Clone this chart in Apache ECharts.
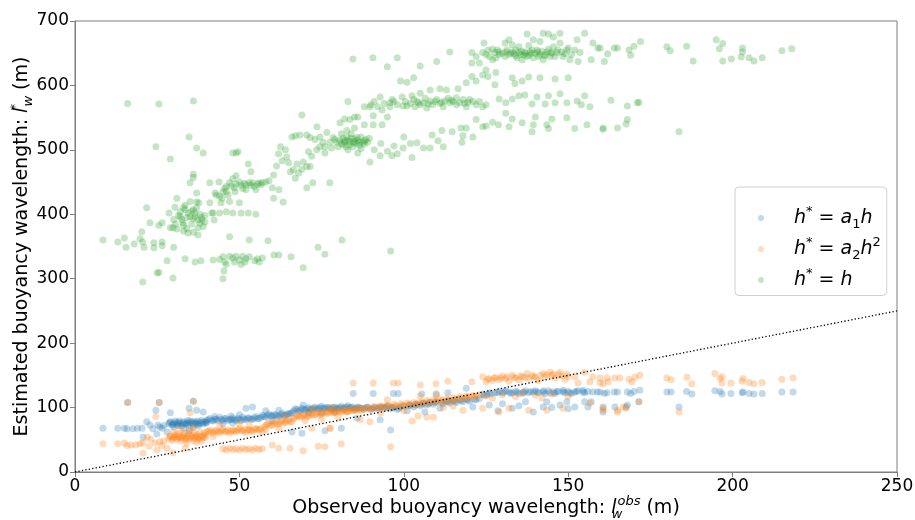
<!DOCTYPE html>
<html>
<head>
<meta charset="utf-8">
<script src="https://cdn.jsdelivr.net/npm/echarts@6/dist/echarts.min.js"></script>
<style>
  html, body { margin: 0; padding: 0; background: #fff; }
  #container { width: 915px; height: 520px; }
</style>
</head>
<body>
<div id="container"></div>
<script>
// observed wavelength (x) vs estimated wavelength (y)
var bluePts = [
  [8.5,68],[13,68],[15,68],[15.8,67],[17.6,67],[19,68],[20.4,68],[20.7,54],[21.8,78],[22.8,73],[23.7,67],[24.9,59],[25.2,73],[25.8,70],
  [24.6,96],[16,108],[25.6,108],[29,92],[28,62],[36,110],[34.7,99],[37,96],[39,93],[34.7,64],[26.5,68],[27,72],
  [28.5,75],[29,78],[29.5,73],[30,76],[30.5,79],[31,74],[31.5,77],[32,75],[32.5,72],[33,78],[33.5,75],[34,77],[34.5,73],[35,79],
  [35.5,76],[36,74],[36.5,78],[37,75],[37.5,72],[38,77],[38.5,80],[39,75],[39.5,78],[30,70],[33,68],[36,70],
  [28.8,77],[29.8,74],[30.8,76],[31.8,79],[32.8,76],[33.8,74],[34.8,76],[35.8,78],[36.8,76],[37.8,74],[38.8,77],[39.8,76],
  [31.3,72],[34.3,80],[37.3,79],[40,77],
  [40,80],[41,83],[42,79],[43,82],[44,85],[45,80],[46,83],[47,81],[48,84],[49,80],[50,82],[51,85],[52,81],[53,84],[54,82],[55,86],
  [56,83],[42.5,86],[47.5,87],[52,99],[54,101],[50,89],[45,75],[48,76],
  [40.5,81],[41.5,80],[42.5,82],[43.5,80],[44.5,82],[45.5,83],[46.5,80],[47.5,82],[48.5,81],[49.5,83],[50.5,80],[51.5,82],
  [52.5,84],[53.5,82],[54.5,84],[55.5,83],[56.5,85],
  [57,88],[58,85],[59,90],[60,87],[61,89],[62,86],[63,91],[64,88],[65,90],[66,92],[58,95],[62,96],[60,80],
  [57.5,86],[58.5,88],[59.5,87],[60.5,89],[61.5,87],[62.5,89],[63.5,88],[64.5,90],[65.5,91],
  [66,62],[69,60],[76,64],[81,68],[84.6,122],[69.4,104],[66.5,95],[67,98],[68,94],[69,99],[70,96],[71,100],[72,97],[73,101],[74,98],
  [75,102],[76,99],[77,100],[78,97],[79,101],[80,98],[81,102],[82,99],[83,103],[84,100],[85,97],[86,101],[87,99],[71,92],[75,92],[79,93],
  [67.5,97],[68.5,96],[69.5,97],[70.5,98],[71.5,97],[72.5,99],[73.5,98],[74.5,100],[75.5,99],[76.5,100],[77.5,99],[78.5,100],
  [79.5,99],[80.5,100],[81.5,99],[82.5,101],[83.5,100],[84.5,101],[85.5,99],[86.5,100],
  [88,98],[89,101],[90,97],[91,100],[92,98],[93,101],[94,99],[95,102],[96,98],[97,100],[98,97],[99,101],[85.8,84],[92.8,81],[96,65],
  [90.7,122],[96.8,122],[98.3,122],[88.5,100],[90.5,99],[92.5,100],[94.5,101],[96.5,100],[98.5,99],
  [100,102],[101,95],[102,104],[103,101],[104,105],[105,103],[106,107],[106.4,93],[107,104],[108,108],[109,105],[110,109],[111,99],
  [112,106],[113,110],[114,107],[115,111],[116,108],[117,112],[118,109],[119,113],[120,110],[121,101],[122,112],[123,114],
  [105.5,121],[109.8,121],[113.4,123],[119,130],[101.5,103],[103.5,104],[105.5,105],[107.5,106],[109.5,108],[111.5,108],[113.5,109],
  [115.5,110],[117.5,111],[119.5,112],[121.5,113],
  [124,121],[125.3,120],[126,123],[127.7,123],[129,125],[130,123],[131,126],[132,124],[133,123],[134,125],[135,122],[136.3,124],
  [137,126],[138,123],[139.4,124],[140,126],[141,123],[142.4,124],[143,122],[144,126],[145.5,124],[146,122],[147,125],[148.5,127],
  [149,123],[150,125],[151,122],[152,124],[153,126],[154.5,127],[155,123],[156,125],
  [124.5,119],[126.5,121],[128.5,123],[130.5,124],[132.5,122],[134.5,124],[136.5,123],[138.5,125],[140.5,124],[142.5,126],
  [144.5,123],[146.5,125],[148.5,124],[150.5,123],[152.5,125],[154.5,124],
  [128.6,95],[133,99],[139.4,93],[142.4,101],[147.5,104],[152,101],[156,101],[160.6,93],[155,109],[157,109],[149.6,109],[143.5,109],
  [137,109],[126,104],[130,106],[135,103],[145,100],[150,98],
  [157.5,124],[158.9,124],[159.7,124],[161,122],[161.8,123],[164,124],[165,124],[168,124],[169,122],[170,125],[171.8,127],
  [180,124],[181.3,124],[186,125],[187.6,121],[194.6,126],[196.2,125],[196.8,121],[199.5,122],[202.9,123],[203.2,124],[205,122],
  [206.5,121],[209,122],[215,124],[218.4,124],
  [160.6,101],[164.2,101],[167.6,101],[168,104],[171.5,109],[183.7,101]
];

var orangePts = [
  [8.5,44],[13,44],[15,45],[15.8,41],[17,42],[18.5,42],[19.8,44],[20.7,45],[20.7,29],[22,54],[23,51],[24.3,45],[24.9,34],[25.8,47],
  [26.4,41],[24.6,86],[16,108],[25.6,108],[28,37],[29.8,30],[33.5,37],[36,110],[35,92],[36,70],[22.5,40],[27,48],
  [28.5,52],[29,56],[29.5,49],[30,54],[30.5,58],[31,51],[31.5,55],[32,48],[32.5,53],[33,57],[33.5,50],[34,54],[34.5,60],[35,52],
  [35.5,56],[36,49],[36.5,54],[37,58],[37.5,51],[38,55],[38.5,48],[39,53],[39.5,57],[30,62],[34,45],[37,46],[35,64],[38,62],[32,66],
  [28.8,55],[29.8,52],[30.8,55],[31.8,53],[32.8,56],[33.8,52],[34.8,55],[35.8,53],[36.8,56],[37.8,53],[38.8,56],[39.8,54],
  [31.3,59],[33.3,60],[36.3,60],[39.3,60],
  [40,62],[41,65],[42,60],[43,64],[44,61],[45,66],[46,63],[47,60],[48,65],[49,62],[50,67],[51,64],[52,61],[53,66],[54,63],[55,68],
  [56,65],[57,62],[45,36],[46,34],[47,37],[48,35],[49,36],[50,34],[51,37],[52,35],[53,36],[54,34],[55,37],[56,35],[57,36],
  [42,55],[44,72],[50,75],[53,72],
  [40.5,63],[41.5,62],[42.5,64],[43.5,62],[44.5,64],[45.5,63],[46.5,65],[47.5,63],[48.5,64],[49.5,65],[50.5,64],[51.5,66],
  [52.5,65],[53.5,64],[54.5,66],[55.5,66],[56.5,67],
  [58,72],[59,76],[60,73],[61,78],[62,75],[63,80],[64,77],[65,81],[66,78],[58,66],[62,68],[60,42],[62,37],[65.4,37],[64,86],
  [57.5,70],[58.5,74],[59.5,72],[60.5,76],[61.5,74],[62.5,78],[63.5,76],[64.5,79],[65.5,78],
  [67,85],[68,88],[69,86],[70,90],[71,87],[72,91],[73,89],[74,93],[75,90],[76,94],[77,91],[78,95],[79,92],[80,96],[81,93],[82,97],
  [83,94],[84,98],[85,95],[86,99],[87,96],[69.4,33],[74,40],[76,39],[81,44],[84.6,138],[77.6,68],[72,68],[70,80],[75,82],[80,85],
  [78,100],[72,98],
  [66.5,83],[67.5,87],[68.5,85],[69.5,88],[70.5,86],[71.5,89],[72.5,88],[73.5,91],[74.5,89],[75.5,92],[76.5,91],[77.5,93],
  [78.5,92],[79.5,94],[80.5,93],[81.5,95],[82.5,94],[83.5,96],[84.5,95],[85.5,97],[86.5,96],
  [88,97],[89,100],[90,98],[91,102],[92,99],[93,103],[94,100],[95,104],[96,101],[97,105],[98,102],[99,106],[100,103],[101,107],
  [102,104],[103,108],[104,105],[105,109],[106,107],[107,111],[108,108],[109,112],[110,109],[111,113],[112,110],[113,114],[114,111],
  [115,115],[116,113],[117,117],[118,114],[119,118],[120,116],[121,119],[122,117],[123,120],
  [87.5,99],[89.5,98],[91.5,100],[93.5,101],[95.5,102],[97.5,103],[99.5,104],[101.5,105],[103.5,106],[105.5,107],[107.5,109],
  [109.5,110],[111.5,111],[113.5,112],[115.5,113],[117.5,115],[119.5,116],[121.5,117],
  [90.7,138],[96.8,138],[98.3,138],[105,135],[109.8,137],[113.4,141],[120.7,140],[96,39],[77.5,68],[102.5,79],[104.3,87],[107,85],
  [109,85],[89.7,78],[86.7,81],[82.7,93],[118,96],[93,92],[100,95],[112,100],[115,102],[95,112],[105,118],[110,120],
  [124,148],[125,140],[126,145],[127,142],[128,147],[129,143],[130,149],[131,145],[132,141],[133,150],[134,146],[135,143],[136,148],
  [137.5,153],[138,145],[139,150],[140,147],[141,142],[142.4,153],[143,148],[144.5,155],[145,150],[146,146],[147.5,155],[148,149],
  [149,144],[150,148],[152,148],[153,138],[155,155],[156.6,140],[157.5,148],[159.7,138],
  [125.5,144],[127.5,146],[129.5,146],[131.5,148],[133.5,147],[135.5,149],[137,147],[139.5,148],[141.5,150],[143.5,151],
  [145.5,152],[147,151],[149.5,152],
  [124,99],[125,118],[127,115],[129,93],[130,120],[132,99],[134,117],[136,122],[138,96],[140,119],[142,115],[143.5,96],[145,121],
  [148.4,99],[150,117],[156.6,107],[160.6,99],[165,93],[166.7,101],
  [159.7,146],[160.6,137],[161.8,146],[162.2,140],[164.2,146],[165.7,146],[168.5,144],[169.4,140],[170.3,147],[171.8,150],[180,146],
  [181.3,143],[186.1,147],[187.6,137],[194.6,153],[196.2,145],[196.8,148],[196.8,138],[199.5,138],[202.9,141],[203.2,145],[205,139],
  [206.5,137],[209,139],[215,144],[218.4,146],
  [160.6,96],[165,96],[167.6,99],[171.5,109],[183.7,93]
];

var greenPts = [
  [8.5,360],[13,357],[15,363],[15.5,349],[18,354],[19.8,362],[20.6,357],[21,349],[24,356],[24,348],[26.5,357],[26.5,351],[30,349],
  [16,572],[25.5,571],[36,576],[20.6,295],[25,309],[25.5,310],[29.8,301],[28,328],[33.5,331],[36.5,326],[38.3,328],
  [34.7,520],[24.6,505],[29,486],[37,503],[39,495],
  [21.8,410],[22.8,387],[25.5,383],[26.5,387],[20.3,373],[28.6,402],[31,425],[29,379],[29.8,379],[30.4,411],[32,404],[33.5,414],
  [33.5,407],[34,395],[32.8,387],[34.4,371],[35,396],[36,407],[36.5,402],[37,410],[37.4,391],[37.4,379],[37.4,368],[38.6,391],
  [39,381],[37,419],[37,433],[36,457],[35,449],[36,462],[37.7,418],
  [31.5,398],[32.5,392],[33,383],[34,378],[35.5,385],[36,393],[38,400],[39.5,398],[30.5,385],[31,377],[33,374],[36,372],[38,386],
  [39.5,388],[35,420],[33,410],[34.5,402],[35.5,405],[36.5,396],[38.5,395],[32,396],[30,392],
  [41,449],[41,418],[41.6,402],[42.3,391],[42.6,433],[43.8,450],[44.4,418],[44.7,425],[45,435],[46,443],[47,449],[46,435],[48,455],
  [48.7,435],[49,460],[50,418],[50.5,402],[48,402],[52,438],[53,449],[54,449],[55,438],[56,449],[57,449],[55,400],[52.7,402],
  [52.7,478],[53.5,466],[49,495],[48,495],[49.6,497],
  [45.5,440],[47.5,444],[49,447],[50.5,445],[51,440],[52,446],[54.5,443],[56.5,446],[58,450],[59,452],[43,430],[44,428],[46.5,430],
  [47,420],[42,402],[44,402],[46,404],[48.5,441],[50,450],[51.5,448],[53.5,445],[55.5,447],
  [42,329],[45,334],[45.6,326],[47,335],[48,332],[49,335],[51,335],[51.7,326],[53,334],[54.7,328],[56,326],[57,332],[60.5,337],
  [62,337],[65.7,334],[69.4,317],[73.9,349],[76,338],[81.2,360],[58.7,359],[53,360],[47,365],[45,300],[45.3,312],[46,322],
  [48.5,326],[50,329],[52,331],[44,330],[50.5,322],[55.5,331],[96,343],
  [60,441],[60.4,425],[62,438],[63.3,419],[60.4,461],[61.3,475],[61.9,494],[63,483],[64.4,489],[65.5,466],[66.4,469],[67,456],
  [68,464],[69.4,481],[70.5,474],[71,497],[71.5,474],[70.5,441],[72.3,449],[66,520],[67,522],[68.4,523],[70.5,523],[71.5,519],
  [73.6,536],[73,516],[74.5,520],[75.4,512],[76,505],[76.6,527],[77.5,512],[77.5,449],[78.5,519],[79.6,512],[69,554],[65,480],
  [67.5,478],[69,470],[72,490],[73.5,500],[74.5,505],[76,495],[78,503],[64,500],[62.5,505],
  [80.6,542],[81.5,508],[82.7,520],[83,500],[83.6,547],[84.6,511],[85.8,519],[86,495],[86,551],[83,575],[84.5,641],
  [80.5,515],[81,510],[81.5,518],[82,512],[82.5,505],[83,515],[83.5,508],[84,518],[84.5,505],[85,513],[85.5,510],[86,515],
  [86.5,507],[87,520],[87.5,512],[88,509],[88.5,516],[89,512],[89.5,518],[80,505],[81,525],[84,525],[87,502],
  [82,514],[83.5,513],[85,517],[86.5,512],[88,514],[79,516],
  [82,548],[85,551],[82.7,530],[85,534],[88,539],[90.7,539],[93.4,539],[95,551],[90.7,553],[88,567],[89.7,567],[92,567],[93.4,562],
  [95.8,567],[92.8,582],[95.8,573],[99.5,582],[99.8,568],
  [89.7,481],[92.8,491],[96.4,491],[98,494],[97,506],[99.8,503],[91,500],[93,510],[95,498],
  [90.6,643],[98,643],[95,629],[99,607],[101,605],[103,612],
  [102.5,584],[105,588],[103.4,567],[106,573],[107.4,571],[108.8,570],[108,593],[111,595],[112,567],[113,593],[114,573],[116,581],
  [116.5,595],[118,578],[119,567],[121,575],[123,575],[124,567],[125,570],
  [100.5,575],[101,568],[102,572],[103,578],[104,575],[105,570],[106.5,580],[107,565],[109.5,575],[110,578],[111,572],[112.5,576],
  [113.5,580],[115,575],[116,570],[117,573],[118.5,572],[120,578],[122,570],[97,575],[98,570],[96.5,578],[94,572],[91,575],[90,570],
  [104.5,573],[108,576],[111.5,574],[114.5,577],[119.5,574],
  [105,630],[110,637],[114,652],[102.5,488],[106,503],[108.6,523],[117.7,512],[121,520],[104,511],[108,503],[110.4,514],[111.6,530],
  [114.7,528],[118,522],[117.4,534],[100,520],[102,510],[112,505],
  [119,604],[120.7,614],[122,607],[124,616],[125.6,614],[127.7,601],[125,624],[128,620],[133,612],[133.8,603],[136,607],[138,613],
  [141.4,612],[146,610],[150,612],
  [119,534],[122,547],[124,536],[125,537],[127,543],[128.8,539],[131,557],[132,536],[133,548],[136,542],[139,528],[139.4,539],
  [140,551],[143.5,539],[144,533],[145,548],[149.6,550],[152,533],[155.7,539],[160.6,534],[165,534],[168,547],[167.6,540],
  [160.6,532],[183.7,528],[171.5,574],
  [129,579],[131,573],[133,579],[135,584],[136.8,585],[139,571],[140.5,582],[143,571],[144,584],[146,573],[147.5,587],[149.6,573],
  [152.7,576],[155,584],[154,570],[156.6,567],[171,573],[168,568],[163,577],
  [120.7,651],[120.7,635],[123,635],[124,651],[125.6,655],[127.7,651],[128,643],[129,652],[130.8,645],[131.4,655],[132,648],[133,652],
  [134.4,643],[135,651],[136,640],[136.8,652],[137.5,645],[138.4,652],[139.4,643],[140.5,655],[141.4,648],[142.4,640],[143.5,652],
  [144.5,645],[145.5,660],[146.6,651],[147.5,666],[148.4,645],[149.6,655],[150.5,640],[152.7,671],[153.6,651],[137.5,680],
  [142.4,681],[144,680],[147.5,681],[155,681],[130.8,666],[132,671],[133,663],[139.4,671],[141.4,668],[145.5,675],[124.4,666],
  [157.5,666],[159,658],[157,640],[153,637],
  [132.5,650],[134,655],[135.5,648],[137,650],[138,647],[139,655],[140,650],[141,645],[142,653],[143,648],[144,656],[145,650],
  [146,645],[134,646],[131,652],[129,648],[127,656],[126,645],[135,660],[138,662],[148,652],[150,658],[151,648],
  [133.5,649],[135.8,653],[136.5,647],[138.8,650],[140.8,652],[142.8,646],[144.8,651],[146.8,655],[130,650],[128.5,655],
  [122,645],[125,648],[127,640],[149,649],[152,655],
  [159.7,658],[161,637],[162,649],[164,658],[165,658],[168.5,655],[169,647],[170,661],[172,668],[180,660],[181,654],[186,661],
  [188,638],[195,671],[197,665],[196,657],[197,638],[199.6,641],[203,658],[203,652],[202.6,644],[205,643],[206.5,638],[209,643],
  [215,654],[218,657]
];

var identityLine = [[0, 0], [250, 250]];

var seriesNames = ['h* = a1 h', 'h* = a2 h^2', 'h* = h'];
var legendLabels = [
  '{i|h}{sp|*}{n| = }{i|a}{sb|1}{i|h}',
  '{i|h}{sp|*}{n| = }{i|a}{sb|2}{i|h}{sp|2}',
  '{i|h}{sp|*}{n| = }{i|h}'
];

var dom = document.getElementById('container');
var myChart = echarts.init(dom, null, { renderer: 'canvas' });
var FONT = 'DejaVu Sans';

var mathRich = {
  i: { fontFamily: FONT, fontStyle: 'italic', fontSize: 19, color: '#000', lineHeight: 26 },
  n: { fontFamily: FONT, fontSize: 19, color: '#000', lineHeight: 26 },
  sp: { fontFamily: FONT, fontSize: 13, color: '#000', verticalAlign: 'top', lineHeight: 14 },
  sb: { fontFamily: FONT, fontSize: 13, color: '#000', verticalAlign: 'bottom', lineHeight: 14 }
};

function scatter(name, pts, color) {
  return {
    type: 'scatter',
    name: name,
    data: pts,
    symbolSize: 7,
    itemStyle: { color: color },
    emphasis: { disabled: true }
  };
}

var option = {
  animation: false,
  backgroundColor: '#fff',
  grid: {
    left: 75, right: 18, top: 21, bottom: 48,
    containLabel: false,
    outerBoundsMode: 'none',
    show: true, borderColor: '#7f7f7f', borderWidth: 1
  },
  legend: {
    data: seriesNames,
    orient: 'vertical',
    left: 735, top: 187,
    padding: [18, 6, 6, 23],
    itemGap: 5,
    itemWidth: 56, itemHeight: 6,
    icon: 'circle',
    backgroundColor: 'rgba(255,255,255,0.8)',
    borderColor: '#d0d0d0', borderWidth: 1, borderRadius: 4,
    formatter: function (name) { return legendLabels[seriesNames.indexOf(name)]; },
    textStyle: { fontFamily: FONT, fontSize: 19, rich: mathRich }
  },
  xAxis: {
    type: 'value', min: 0, max: 250, interval: 50,
    name: 'Observed buoyancy wavelength: {i|l}{sb|w}{sp|obs} (m)',
    nameLocation: 'middle', nameGap: 23,
    nameMoveOverlap: false,
    nameTextStyle: {
      fontFamily: FONT, fontSize: 19, color: '#000',
      rich: {
        i: { fontFamily: FONT, fontStyle: 'italic', fontSize: 19, lineHeight: 26 },
        sp: { fontFamily: FONT, fontStyle: 'italic', fontSize: 13, verticalAlign: 'top', lineHeight: 13 },
        sb: { fontFamily: FONT, fontStyle: 'italic', fontSize: 13, verticalAlign: 'bottom', lineHeight: 13, width: 1 }
      }
    },
    axisLine: { lineStyle: { color: '#7f7f7f', width: 1 } },
    axisTick: { length: 5, lineStyle: { color: '#7f7f7f' } },
    axisLabel: { fontFamily: FONT, fontSize: 17, color: '#000', margin: 6 },
    splitLine: { show: false }
  },
  yAxis: {
    type: 'value', min: 0, max: 700, interval: 100,
    name: 'Estimated buoyancy wavelength: {i|l}{sp|*}{sb|w} (m)',
    nameLocation: 'middle', nameGap: 40,
    nameMoveOverlap: false,
    nameTextStyle: {
      fontFamily: FONT, fontSize: 19, color: '#000',
      rich: {
        i: { fontFamily: FONT, fontStyle: 'italic', fontSize: 19, lineHeight: 26 },
        sp: { fontFamily: FONT, fontSize: 13, verticalAlign: 'top', lineHeight: 13, width: 1 },
        sb: { fontFamily: FONT, fontStyle: 'italic', fontSize: 13, verticalAlign: 'bottom', lineHeight: 13 }
      }
    },
    axisLine: { show: true, lineStyle: { color: '#7f7f7f', width: 1 } },
    axisTick: { show: true, length: 5, lineStyle: { color: '#7f7f7f' } },
    axisLabel: { fontFamily: FONT, fontSize: 17, color: '#000', margin: 6 },
    splitLine: { show: false }
  },
  series: [
    scatter(seriesNames[0], bluePts, 'rgba(31,119,180,0.35)'),
    scatter(seriesNames[1], orangePts, 'rgba(255,127,14,0.35)'),
    scatter(seriesNames[2], greenPts, 'rgba(44,160,44,0.35)'),
    {
      type: 'line',
      data: identityLine,
      symbol: 'none',
      silent: true,
      z: 5,
      lineStyle: { color: '#000', width: 1.3, type: [1.3, 2.2] }
    }
  ]
};

myChart.setOption(option);
window.addEventListener('resize', myChart.resize);
</script>
</body>
</html>
